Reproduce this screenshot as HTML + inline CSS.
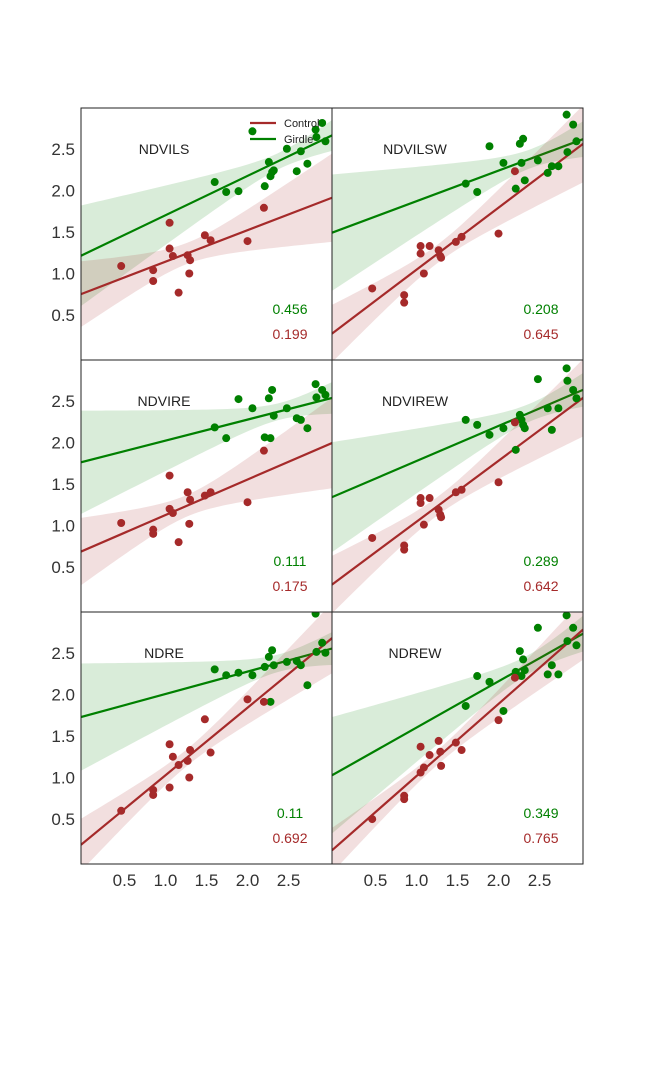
<!DOCTYPE html>
<html><head><meta charset="utf-8"><style>
html,body{margin:0;padding:0;background:#fff;}
svg{display:block;font-family:"Liberation Sans",sans-serif;}
</style></head><body>
<svg id="chart" width="648" height="1080"></svg>
<script>
const controlX=[0.46,0.85,0.85,1.05,1.05,1.09,1.16,1.27,1.29,1.30,1.48,1.55,2.00,2.20];
const girdleX=[1.60,1.74,1.89,2.06,2.21,2.26,2.28,2.30,2.32,2.48,2.60,2.65,2.73,2.83,2.84,2.91,2.95];
const panelTitles=["NDVILS","NDVILSW","NDVIRE","NDVIREW","NDRE","NDREW"];
const controlY=[
[1.09,1.04,0.91,1.30,1.61,1.21,0.77,1.22,1.00,1.16,1.46,1.40,1.39,1.79],
[0.82,0.74,0.65,1.24,1.33,1.00,1.33,1.28,1.21,1.19,1.38,1.44,1.48,2.23],
[1.03,0.95,0.90,1.60,1.20,1.15,0.80,1.40,1.02,1.31,1.36,1.40,1.28,1.90],
[0.85,0.76,0.71,1.33,1.27,1.01,1.33,1.19,1.13,1.10,1.40,1.43,1.52,2.24],
[0.60,0.85,0.79,1.40,0.88,1.25,1.15,1.20,1.00,1.33,1.70,1.30,1.94,1.91],
[0.50,0.78,0.74,1.37,1.06,1.12,1.27,1.44,1.31,1.14,1.42,1.33,1.69,2.20]];
const girdleY=[
[2.10,1.98,1.99,2.71,2.05,2.34,2.17,2.22,2.24,2.50,2.23,2.47,2.32,2.73,2.64,2.81,2.59],
[2.08,1.98,2.53,2.33,2.02,2.56,2.33,2.62,2.12,2.36,2.21,2.29,2.29,2.91,2.46,2.79,2.59],
[2.18,2.05,2.52,2.41,2.06,2.53,2.05,2.63,2.32,2.41,2.29,2.27,2.17,2.70,2.54,2.63,2.57],
[2.27,2.21,2.09,2.17,1.91,2.33,2.27,2.21,2.17,2.76,2.41,2.15,2.41,2.89,2.74,2.63,2.53],
[2.30,2.23,2.26,2.23,2.33,2.45,1.91,2.53,2.35,2.39,2.40,2.35,2.11,2.97,2.51,2.62,2.50],
[1.86,2.22,2.15,1.80,2.27,2.52,2.22,2.42,2.29,2.80,2.24,2.35,2.24,2.95,2.64,2.80,2.59]];
const girdleR2=["0.456","0.208","0.111","0.289","0.11","0.349"];
const controlR2=["0.199","0.645","0.175","0.642","0.692","0.765"];
const xTicks=[0.5,1.0,1.5,2.0,2.5];
const yTicks=[0.5,1.0,1.5,2.0,2.5];

const NS="http://www.w3.org/2000/svg";
const svg=document.getElementById('chart');
const RED="#a52a2a",GREEN="#008000";
const PW=251,PH=252,L0=81,T0=108,XMIN=-0.03,XMAX=3.03,YMIN=-0.04,YMAX=2.99;
function mk(tag,attrs,parent){const e=document.createElementNS(NS,tag);for(const k in attrs)e.setAttribute(k,attrs[k]);(parent||svg).appendChild(e);return e;}
function fit(xs,ys){const n=xs.length;const mx=xs.reduce((a,b)=>a+b)/n,my=ys.reduce((a,b)=>a+b)/n;let sxx=0,sxy=0;for(let i=0;i<n;i++){sxx+=(xs[i]-mx)**2;sxy+=(xs[i]-mx)*(ys[i]-my);}const b=sxy/sxx,a=my-b*mx;let sse=0;for(let i=0;i<n;i++)sse+=(ys[i]-a-b*xs[i])**2;const s=Math.sqrt(sse/(n-2));return{a,b,mx,sxx,s,n};}
for(let p=0;p<6;p++){
  const col=p%2,row=Math.floor(p/2);
  const left=L0+col*PW,top=T0+row*PH;
  const sx=v=>left+(v-XMIN)/(XMAX-XMIN)*PW;
  const sy=v=>top+PH-(v-YMIN)/(YMAX-YMIN)*PH;
  const g=mk('g',{'clip-path':'url(#c'+p+')'});
  
  
  const cp=mk('clipPath',{id:'c'+p});mk('rect',{x:left,y:top,width:PW,height:PH},cp);
  const series=[[girdleX,girdleY[p],GREEN,'girdle'],[controlX,controlY[p],RED,'control']];
  for(const [xs,ys,c,nm] of series){
    const f=fit(xs,ys);const t=2.1;
    const up=[],lo=[];
    for(let i=0;i<=60;i++){const x=XMIN+(XMAX-XMIN)*i/60;const yh=f.a+f.b*x;const se=f.s*Math.sqrt(1/f.n+(x-f.mx)**2/f.sxx);up.push(sx(x)+','+sy(yh+t*se));lo.unshift(sx(x)+','+sy(yh-t*se));}
    const band=mk('polygon',{points:up.concat(lo).join(' '),fill:c,'fill-opacity':0.15,stroke:'none'},g);
    
    
    const ln=mk('line',{x1:sx(XMIN),y1:sy(f.a+f.b*XMIN),x2:sx(XMAX),y2:sy(f.a+f.b*XMAX),stroke:c,'stroke-width':2.2},g);
    
    
  }
  for(const [xs,ys,c,nm] of series){
    for(let i=0;i<xs.length;i++){
      const d=mk('circle',{cx:sx(xs[i]),cy:sy(ys[i]),r:4,fill:c},g);
      
      
    }
  }
  const fr=mk('rect',{x:left,y:top,width:PW,height:PH,fill:'none',stroke:'#222','stroke-width':1});
  
  
  const tt=mk('text',{x:left+83,y:top+46,'font-size':14,fill:'#222','text-anchor':'middle'});tt.textContent=panelTitles[p];
  
  
  const g2=mk('text',{x:left+209,y:top+206,'font-size':14,fill:GREEN,'text-anchor':'middle'});g2.textContent=girdleR2[p];
  
  
  const c2=mk('text',{x:left+209,y:top+231,'font-size':14,fill:RED,'text-anchor':'middle'});c2.textContent=controlR2[p];
  
  
  if(col===0){for(const v of yTicks){const e=mk('text',{x:75,y:sy(v)+6,'font-size':17,fill:'#333','text-anchor':'end'});e.textContent=v.toFixed(1);
    
    }}
  if(row===2){for(const v of xTicks){const e=mk('text',{x:sx(v),y:886,'font-size':17,fill:'#333','text-anchor':'middle'});e.textContent=v.toFixed(1);
    
    }}
}
// legend
const lg=mk('g',{});


mk('line',{x1:250,y1:123,x2:276,y2:123,stroke:RED,'stroke-width':2.2},lg);
mk('line',{x1:250,y1:139,x2:276,y2:139,stroke:GREEN,'stroke-width':2.2},lg);
const l1=mk('text',{x:284,y:127,'font-size':11,fill:'#222'},lg);l1.textContent='Control';


const l2=mk('text',{x:284,y:143,'font-size':11,fill:'#222'},lg);l2.textContent='Girdle';


</script>
</body></html>
